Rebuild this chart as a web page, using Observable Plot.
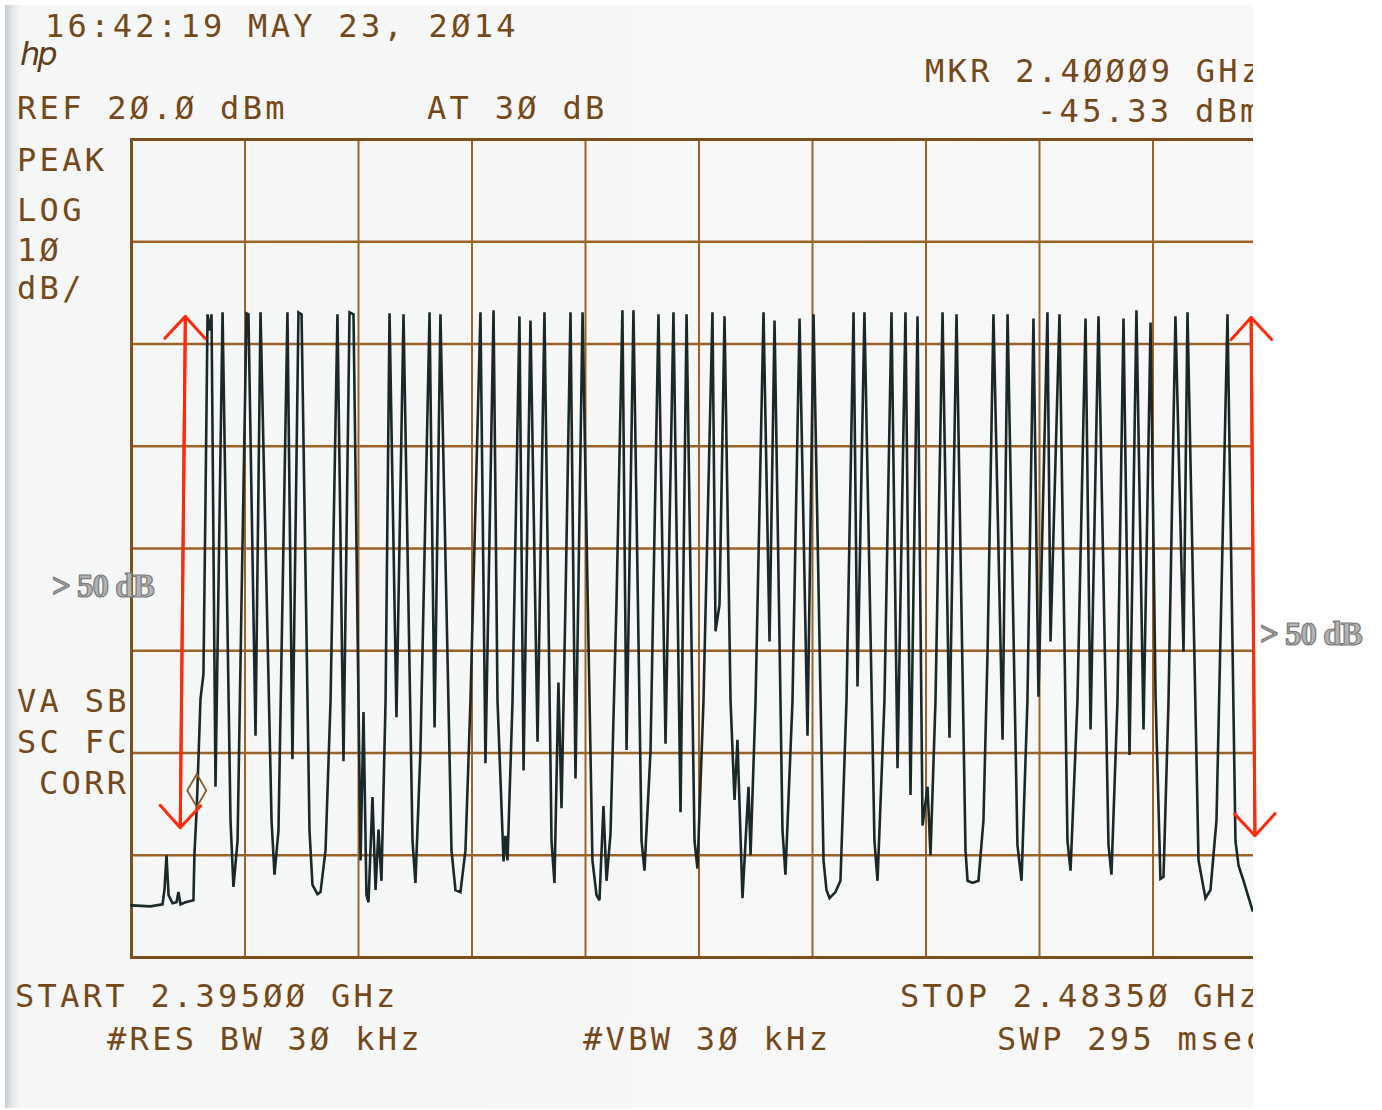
<!DOCTYPE html>
<html><head><meta charset="utf-8">
<script src="https://cdn.jsdelivr.net/npm/d3@7"></script>
<script src="https://cdn.jsdelivr.net/npm/@observablehq/plot@0.6"></script>
<style>
html,body{margin:0;padding:0;background:#fff;}
#page{position:relative;width:1382px;height:1110px;overflow:hidden;background:#fff;}
#scan{position:absolute;left:5px;top:5px;width:1248px;height:1103px;overflow:hidden;
 background:linear-gradient(to right,#c8ccd0 0px,#e4e7e9 7px,#f5f6f6 16px,#f8f8f8 100%);}
#inner{position:absolute;left:-5px;top:-5px;width:1382px;height:1110px;}
#inner svg{position:absolute;left:0;top:0;}
.t{position:absolute;font-family:"DejaVu Sans Mono",monospace;font-size:32px;line-height:26px;letter-spacing:3.3px;color:#744818;white-space:pre;}
.logo{position:absolute;font-family:"DejaVu Sans",sans-serif;font-style:italic;font-size:32px;line-height:32px;letter-spacing:-3px;color:#5e3e1a;white-space:pre;}
.note{position:absolute;font-family:"Liberation Serif",serif;font-weight:bold;font-size:33px;line-height:33px;color:#b3b3b3;-webkit-text-stroke:1.2px #7a7a7a;letter-spacing:-1px;white-space:pre;}
#overlay{position:absolute;left:0;top:0;pointer-events:none;}
</style></head>
<body><div id="page"><div id="scan"><div id="inner"></div></div><div id="overlay"></div></div>
<script>
// ---- instrument settings ----
const startGHz = 2.395;
const stopGHz = 2.4835;
const refDbm = 20.0;
const dbPerDiv = 10;
const attenDb = 30;
const markerGHz = 2.40009;
const markerDbm = -45.33;
const resBwKHz = 30;
const vbwKHz = 30;
const sweepMs = 295;
const timestamp = "16:42:19 MAY 23, 2014";

// ---- trace vertices (frequency in MHz, level in dBm) ----
const freqMHz = [
  2395.00, 2396.48, 2397.42, 2397.57, 2397.73, 2397.89, 2398.20, 2398.51, 2398.66, 2398.82,
  2399.21, 2399.83, 2399.91, 2400.09, 2400.38, 2400.61, 2400.77, 2400.93, 2401.08, 2401.24,
  2401.55, 2402.10, 2402.72, 2402.95, 2403.27, 2403.58, 2403.97, 2404.12, 2404.67, 2405.06,
  2405.92, 2406.15, 2406.46, 2407.16, 2407.55, 2408.02, 2408.26, 2408.88, 2409.11, 2409.50,
  2409.74, 2410.13, 2410.52, 2411.06, 2411.53, 2412.00, 2412.31, 2412.86, 2413.09, 2413.32,
  2413.48, 2413.79, 2414.03, 2414.26, 2414.49, 2414.81, 2415.12, 2415.66, 2416.21, 2416.91,
  2417.14, 2417.53, 2418.24, 2418.63, 2419.09, 2419.95, 2420.26, 2420.65, 2421.04, 2421.43,
  2422.21, 2422.60, 2423.23, 2423.54, 2424.01, 2424.16, 2424.32, 2424.71, 2425.25, 2425.57,
  2426.11, 2426.66, 2427.20, 2427.75, 2427.98, 2428.29, 2428.53, 2428.84, 2429.23, 2429.62,
  2430.17, 2430.94, 2431.26, 2431.49, 2431.80, 2432.04, 2432.35, 2432.82, 2433.28, 2433.60,
  2434.14, 2434.77, 2435.00, 2435.47, 2436.09, 2436.64, 2437.26, 2437.81, 2438.28, 2438.90,
  2439.13, 2439.60, 2440.30, 2440.54, 2440.85, 2441.24, 2441.71, 2442.02, 2442.25, 2442.64,
  2443.11, 2443.27, 2443.66, 2444.28, 2444.75, 2445.14, 2445.76, 2445.99, 2446.54, 2447.09,
  2447.71, 2448.18, 2448.96, 2449.19, 2449.43, 2449.89, 2450.28, 2450.75, 2451.30, 2451.61,
  2452.15, 2452.93, 2453.17, 2453.71, 2454.26, 2454.73, 2455.35, 2455.74, 2456.29, 2456.68,
  2457.07, 2457.30, 2457.69, 2458.24, 2458.78, 2459.33, 2460.03, 2460.19, 2460.58, 2461.04,
  2461.43, 2461.75, 2462.21, 2462.92, 2463.31, 2464.08, 2464.40, 2464.86, 2465.33, 2465.72,
  2466.42, 2466.66, 2467.36, 2467.98, 2468.22, 2468.76, 2469.39, 2469.78, 2470.40, 2471.18,
  2471.41, 2471.88, 2472.35, 2472.82, 2473.36, 2473.91, 2474.46, 2474.85, 2475.23, 2475.47,
  2475.86, 2476.40, 2477.03, 2477.34, 2478.20, 2478.74, 2479.13, 2479.60, 2480.46, 2481.08,
  2481.32, 2481.71, 2482.41, 2483.50
];
const levelDbm = [
  -54.9, -55.0, -54.8, -53.4, -50.0, -53.9, -54.7, -54.6, -53.6, -54.8,
  -54.6, -54.4, -49.8, -45.33, -34.7, -32.3, -15.3, 2.9, 1.3, 2.9,
  -43.3, 3.1, -46.6, -53.1, -48.6, -25.1, 3.0, 2.9, -38.3, 3.1,
  -46.6, -51.9, -47.6, 3.1, -40.6, 3.1, 2.9, -47.6, -52.9, -53.8,
  -53.6, -49.5, -34.9, 2.9, -40.8, 3.1, 2.9, -50.5, -36.0, -53.9,
  -54.6, -44.3, -53.4, -47.5, -52.5, -34.9, 3.0, -36.5, 2.9, -48.6,
  -52.7, -39.8, 3.1, -37.5, 2.9, -49.5, -53.4, -53.6, -49.5, -34.9,
  3.1, -41.0, 3.3, -34.9, -50.6, -48.1, -50.5, -34.9, 2.7, -41.7,
  2.3, -38.9, 3.1, -48.6, -52.7, -33.1, -45.4, -25.1, 3.1, -42.5,
  3.1, -50.5, -53.9, -54.4, -45.2, -52.5, -47.9, -25.1, 3.3, -39.7,
  3.3, -48.6, -51.5, -39.8, 2.9, -39.1, 3.1, -45.8, 2.9, -48.6,
  -51.3, -34.9, 3.1, -28.1, -25.5, 2.7, -34.9, -44.6, -38.7, -54.2,
  -43.3, -50.0, -34.9, 3.1, -29.1, 2.3, -47.6, -51.9, -34.9, 2.5,
  -38.3, 2.9, -50.5, -53.4, -54.2, -53.6, -52.5, -34.9, 3.1, -33.5,
  3.1, -48.6, -52.5, -34.9, 3.1, -41.5, 3.1, -44.1, 2.7, -47.1,
  -43.3, -50.0, -34.9, 3.1, -38.5, 2.9, -49.5, -52.5, -52.7, -52.5,
  -46.6, -30.1, 2.9, -38.7, 2.9, -49.0, -52.5, -34.9, 2.5, -34.5,
  3.1, -29.1, 2.9, -48.6, -51.5, -34.9, 2.5, -37.7, 2.7, -49.0,
  -51.9, -34.9, 2.5, -40.2, 3.3, -37.7, 2.1, -34.5, -52.3, -52.1,
  -34.9, 2.7, -30.1, 3.1, -50.5, -54.2, -53.4, -46.6, 2.9, -48.6,
  -51.0, -52.5, -55.4, -55.6
];

// ---- annotation arrows (> 50 dB), frequency MHz / level dBm ----
const arrowFreqTop = [2399.2, 2482.3];
const arrowFreqBottom = [2398.8, 2482.6];
const arrowLevelTop = [2.7, 2.6];
const arrowLevelBottom = [-47.3, -48.1];
const arrowLabel = "> 50 dB";

// ---- styles ----
const GRID = "#9c6226";
const FRAME = "#7e4f1e";
const TRACE = "#1a2829";
const RED = "#ff2a0a";
const MKR = "#8c5c28";

const slash0 = s => s.replace(/0/g, "\u00D8");

const xDomain = [startGHz * 1000, stopGHz * 1000];
const yDomain = [refDbm - 8 * dbPerDiv, refDbm];
const xDivs = d3.range(11).map(i => xDomain[0] + i * (xDomain[1] - xDomain[0]) / 10);
const yDivs = d3.range(9).map(i => yDomain[0] + i * dbPerDiv);

const trace = freqMHz.map((f, i) => ({f, l: levelDbm[i]}));
const marker = [{f: markerGHz * 1000, l: markerDbm}];
const arrows = arrowFreqTop.map((f, i) => ({
  ft: f, lt: arrowLevelTop[i], fb: arrowFreqBottom[i], lb: arrowLevelBottom[i]
}));

const common = {
  width: 1382, height: 1110,
  marginLeft: 131, marginRight: 116, marginTop: 139, marginBottom: 153,
  x: {domain: xDomain, axis: null},
  y: {domain: yDomain, axis: null},
  style: {background: "transparent"}
};

const chart = Plot.plot({
  ...common,
  marks: [
    Plot.ruleX(xDivs, {stroke: GRID, strokeWidth: 2}),
    Plot.ruleY(yDivs, {stroke: GRID, strokeWidth: 2.5}),
    Plot.frame({stroke: FRAME, strokeWidth: 3}),
    Plot.line(trace, {x: "f", y: "l", stroke: TRACE, strokeWidth: 2.6, strokeLinejoin: "miter", strokeMiterlimit: 3}),
    Plot.dot(marker, {x: "f", y: "l", symbol: "diamond", r: 10, stroke: MKR, fill: "none", strokeWidth: 1.8, dy: -17})
  ]
});
document.getElementById("inner").appendChild(chart);

const overlay = Plot.plot({
  ...common,
  marks: [
    Plot.arrow(arrows, {x1: "fb", y1: "lb", x2: "ft", y2: "lt", stroke: RED, strokeWidth: 3, headLength: 15, headAngle: 85}),
    Plot.arrow(arrows, {x1: "ft", y1: "lt", x2: "fb", y2: "lb", stroke: RED, strokeWidth: 3, headLength: 15, headAngle: 85})
  ]
});
document.getElementById("overlay").appendChild(overlay);

// ---- instrument annotation text ----
const texts = [
  [slash0(timestamp), 45, 37],
  [`REF ${slash0(refDbm.toFixed(1))} dBm`, 17, 119],
  [`AT ${slash0(String(attenDb))} dB`, 427, 119],
  [`MKR ${slash0(markerGHz.toFixed(5))} GHz`, 925, 82],
  [`${markerDbm.toFixed(2)} dBm`, 1037, 122],
  ["PEAK", 17, 171],
  ["LOG", 17, 221],
  [slash0(String(dbPerDiv)), 17, 261],
  ["dB/", 17, 299],
  ["VA SB", 17, 712],
  ["SC FC", 17, 753],
  ["CORR", 39, 794],
  [`START ${slash0(startGHz.toFixed(5))} GHz`, 15, 1007],
  [`#RES BW ${slash0(String(resBwKHz))} kHz`, 107, 1050],
  [`#VBW ${slash0(String(vbwKHz))} kHz`, 583, 1050],
  [`STOP ${slash0(stopGHz.toFixed(5))} GHz`, 900, 1007],
  [`SWP ${sweepMs} msec`, 997, 1050]
];
const inner = document.getElementById("inner");
for (const [s, x, base] of texts) {
  const d = document.createElement("div");
  d.className = "t";
  d.textContent = s;
  d.style.left = x + "px";
  d.style.top = (base - 24.1) + "px";
  inner.appendChild(d);
}
const logo = document.createElement("div");
logo.className = "logo";
logo.textContent = "hp";
logo.style.left = "20px";
logo.style.top = "38px";
inner.appendChild(logo);

const page = document.getElementById("page");
for (const [x, base] of [[52, 598], [1260, 646]]) {
  const d = document.createElement("div");
  d.className = "note";
  d.textContent = arrowLabel;
  d.style.left = x + "px";
  d.style.top = (base - 27.7) + "px";
  page.appendChild(d);
}
</script>
</body></html>
